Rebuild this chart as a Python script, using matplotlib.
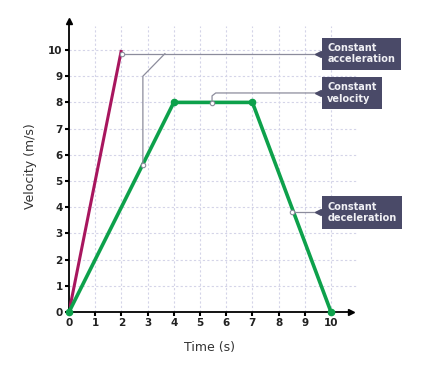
import matplotlib.pyplot as plt

# velocity-time data
accel_t = [0, 2]
accel_v = [0, 10]
trip_t = [0, 4, 7, 10]
trip_v = [0, 8, 8, 0]

x_ticks = list(range(0, 11))
y_ticks = list(range(0, 11))

labels = ["Constant\nacceleration", "Constant\nvelocity", "Constant\ndeceleration"]
label_y = [9.86, 8.36, 3.8]

box_col = '#4a4a68'
lead_col = '#8c8c9c'
grid_col = '#d4d4e8'

fig = plt.figure(figsize=(4.27, 3.71), dpi=100)
xmax, ymax = 10.75, 11.1
ax = fig.add_axes([69 / 427, 59 / 371, 26.2 * xmax / 427, 26.2 * ymax / 371])
ax.set_xlim(0, xmax)
ax.set_ylim(0, ymax)

for t in x_ticks[1:]:
    ax.plot([t, t], [0, 10.9], color=grid_col, lw=0.8, ls=(0, (2, 2)), zorder=0)
for v in y_ticks[1:]:
    ax.plot([0, 11.0], [v, v], color=grid_col, lw=0.8, ls=(0, (2, 2)), zorder=0, clip_on=False)

ax.plot(accel_t, accel_v, color='#a8165e', lw=2.2, zorder=3, solid_capstyle='butt')
ax.plot(trip_t, trip_v, color='#0da14b', lw=2.6, zorder=3, marker='o', ms=4.5, clip_on=False)

# leader lines
lw = 0.9
ax.plot([2.02, 9.5], [9.86, 9.86], color=lead_col, lw=lw, zorder=4)
ax.plot([2.82, 2.82, 3.66], [5.6, 9.0, 9.86], color=lead_col, lw=lw, zorder=4)
ax.plot([5.46, 5.46, 5.6, 9.5], [7.98, 8.25, 8.36, 8.36], color=lead_col, lw=lw, zorder=4)
ax.plot([8.5, 9.5], [3.8, 3.8], color=lead_col, lw=lw, zorder=4)
ax.plot([2.02, 2.82, 5.46, 8.5], [9.86, 5.6, 7.98, 3.8], 'o', ms=3.2, mfc='white',
        mec=lead_col, mew=0.8, zorder=5)

for lab, y in zip(labels, label_y):
    ax.text(9.86, y, lab, color='#f0f0f4', fontsize=7, fontweight='bold', ha='left',
            va='center', linespacing=1.2, zorder=6, clip_on=False,
            bbox=dict(boxstyle='square,pad=0.55', fc=box_col, ec='none'))
    ax.plot(9.5, y, marker='<', ms=5, color=box_col, clip_on=False, zorder=6)

for s in ['top', 'right']:
    ax.spines[s].set_visible(False)
for s in ['left', 'bottom']:
    ax.spines[s].set_linewidth(1.3)
ax.plot(0, ymax, '^', color='black', ms=4, clip_on=False, zorder=7)
ax.plot(xmax, 0, '>', color='black', ms=4, clip_on=False, zorder=7)

ax.set_xticks(x_ticks)
ax.set_yticks(y_ticks)
ax.tick_params(length=3, width=1.5, labelsize=7.5, pad=1.5)
for lbl in ax.get_xticklabels() + ax.get_yticklabels():
    lbl.set_fontweight('bold')
    lbl.set_color('#222222')
ax.set_xlabel('Time (s)', fontsize=9, color='#333333', labelpad=9)
ax.set_ylabel('Velocity (m/s)', fontsize=9, color='#333333', labelpad=8)

fig.savefig('out.png', dpi=100)
